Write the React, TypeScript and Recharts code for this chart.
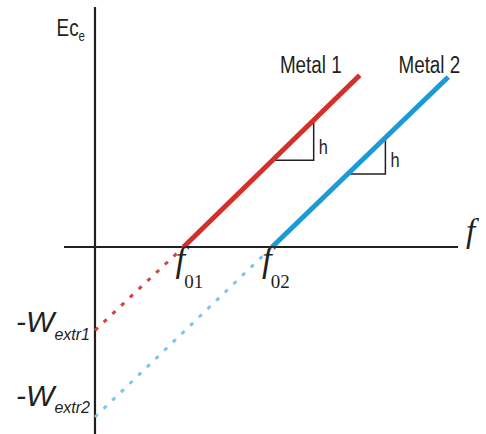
import React from "react";
import { LineChart, Line, XAxis, YAxis, ReferenceLine, ReferenceDot } from "recharts";

// Metal 1 (red): Ec = h f - W1, solid above threshold, dotted extrapolation below
const metal1Solid = [
  { x: 1.0, y: 0 },
  { x: 2.99, y: 2.02 },
];
const metal1Dotted = [
  { x: 0, y: -0.98 },
  { x: 1.0, y: 0 },
];
// Metal 2 (blue)
const metal2Solid = [
  { x: 2.0, y: 0 },
  { x: 3.99, y: 2.0 },
];
const metal2Dotted = [
  { x: 0, y: -2.0 },
  { x: 2.0, y: 0 },
];
// slope triangles marked "h"
const triangle1 = [
  { x: 2.02, y: 1.02 },
  { x: 2.47, y: 1.02 },
  { x: 2.47, y: 1.47 },
];
const triangle2 = [
  { x: 2.86, y: 0.86 },
  { x: 3.28, y: 0.86 },
  { x: 3.28, y: 1.28 },
];

const xDomain: [number, number] = [-0.35, 4.1];
const yDomain: [number, number] = [-2.2, 2.8235];

const INK = "#231f20";
const SANS = "'Liberation Sans', Arial, sans-serif";
const SERIF = "'Liberation Serif', 'Times New Roman', serif";

type Part = {
  t: string;
  size: number;
  family: string;
  italic?: boolean;
  dx?: number;
  dy?: number;
};

const makeLabel =
  (parts: Part[], dx: number, dy: number, anchor: "start" | "middle" | "end", sx = 1) =>
  (props: any) => {
    const vb = props.viewBox || { x: 0, y: 0, width: 0, height: 0 };
    const cx = vb.x + (vb.width || 0) / 2;
    const cy = vb.y + (vb.height || 0) / 2;
    return (
      <text
        x={0}
        y={0}
        transform={`translate(${cx + dx},${cy + dy}) scale(${sx},1)`}
        textAnchor={anchor}
        fill={INK}
      >
        {parts.map((p, i) => (
          <tspan
            key={i}
            fontSize={p.size}
            fontFamily={p.family}
            fontStyle={p.italic ? "italic" : "normal"}
            dx={p.dx || 0}
            dy={p.dy || 0}
          >
            {p.t}
          </tspan>
        ))}
      </text>
    );
  };

const dotProps = { r: 1, fill: "none", stroke: "none", ifOverflow: "visible" as const };
const NX = 0.82;

export default function App() {
  return (
    <div style={{ position: "absolute", left: 0, top: 0, background: "#fff" }}>
      <LineChart
        width={486}
        height={434}
        margin={{ top: 7, right: 28, bottom: 0, left: 64 }}
      >
        <XAxis type="number" dataKey="x" domain={xDomain} hide allowDataOverflow />
        <YAxis type="number" dataKey="y" domain={yDomain} hide allowDataOverflow />
        <ReferenceLine x={0} stroke={INK} strokeWidth={2.2} />
        <ReferenceLine y={0} stroke={INK} strokeWidth={2.2} />

        <Line data={metal1Dotted} dataKey="y" type="linear" stroke="#d8403c" strokeWidth={3} strokeDasharray="4 8" dot={false} isAnimationActive={false} />
        <Line data={metal2Dotted} dataKey="y" type="linear" stroke="#7ac6ea" strokeWidth={3} strokeDasharray="4 8" dot={false} isAnimationActive={false} />
        <Line data={triangle1} dataKey="y" type="linear" stroke={INK} strokeWidth={1.5} dot={false} isAnimationActive={false} />
        <Line data={triangle2} dataKey="y" type="linear" stroke={INK} strokeWidth={1.5} dot={false} isAnimationActive={false} />
        <Line data={metal1Solid} dataKey="y" type="linear" stroke="#d3302a" strokeWidth={5} dot={false} isAnimationActive={false} />
        <Line data={metal2Solid} dataKey="y" type="linear" stroke="#1b9ad6" strokeWidth={5} dot={false} isAnimationActive={false} />

        <ReferenceDot x={0} y={yDomain[1]} {...dotProps}
          label={makeLabel([
            { t: "Ec", size: 23, family: SANS },
            { t: "e", size: 14, family: SANS, dy: 5 },
          ], -10, 29, "end", NX)} />
        <ReferenceDot x={metal1Solid[1].x} y={metal1Solid[1].y} {...dotProps}
          label={makeLabel([{ t: "Metal 1", size: 23, family: SANS }], -18, -2, "end", NX)} />
        <ReferenceDot x={metal2Solid[1].x} y={metal2Solid[1].y} {...dotProps}
          label={makeLabel([{ t: "Metal 2", size: 23, family: SANS }], 12, -4, "end", NX)} />
        <ReferenceDot x={triangle1[1].x} y={triangle1[1].y} {...dotProps}
          label={makeLabel([{ t: "h", size: 20, family: SANS }], 5, -6, "start", NX)} />
        <ReferenceDot x={triangle2[1].x} y={triangle2[1].y} {...dotProps}
          label={makeLabel([{ t: "h", size: 20, family: SANS }], 5, -7, "start", NX)} />
        <ReferenceDot x={xDomain[1]} y={0} {...dotProps}
          label={makeLabel([{ t: "f", size: 33, family: SERIF, italic: true }], 8, -5, "start")} />
        <ReferenceDot x={metal1Solid[0].x} y={0} {...dotProps}
          label={makeLabel([
            { t: "f", size: 35, family: SERIF, italic: true },
            { t: "01", size: 19, family: SERIF, dx: -1, dy: 17 },
          ], -8, 24, "start")} />
        <ReferenceDot x={metal2Solid[0].x} y={0} {...dotProps}
          label={makeLabel([
            { t: "f", size: 35, family: SERIF, italic: true },
            { t: "02", size: 19, family: SERIF, dx: -1, dy: 17 },
          ], -10, 24, "start")} />
        <ReferenceDot x={0} y={metal1Dotted[0].y} {...dotProps}
          label={makeLabel([
            { t: "-W", size: 30, family: SANS, italic: true },
            { t: "extr1", size: 16, family: SANS, italic: true, dy: 8 },
          ], -5, 2, "end")} />
        <ReferenceDot x={0} y={metal2Dotted[0].y} {...dotProps}
          label={makeLabel([
            { t: "-W", size: 30, family: SANS, italic: true },
            { t: "extr2", size: 16, family: SANS, italic: true, dy: 7 },
          ], -5, -11, "end")} />
      </LineChart>
    </div>
  );
}
